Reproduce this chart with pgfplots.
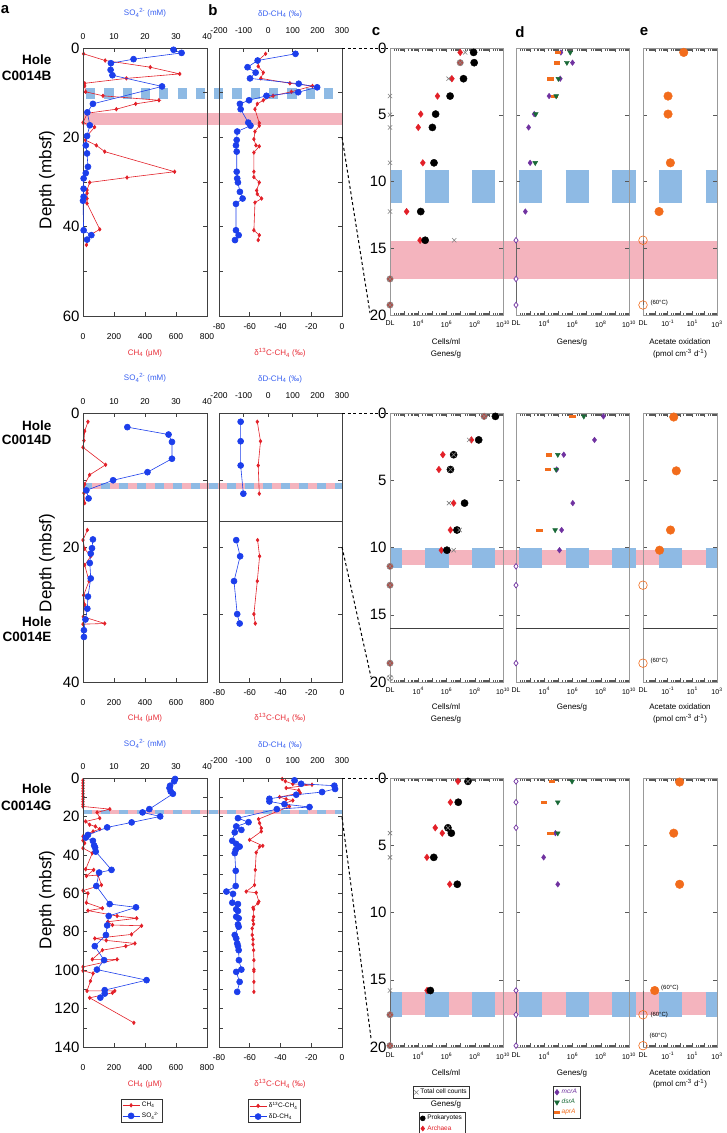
\documentclass[border=0pt]{standalone}
\usepackage{pgfplots}
\pgfplotsset{compat=1.18}
\usepackage{fontspec}
\setmainfont{Liberation Sans}
\usetikzlibrary{plotmarks}
\definecolor{cred}{RGB}{226,32,40}
\definecolor{cblue}{RGB}{28,62,235}
\definecolor{lred}{RGB}{232,45,55}
\definecolor{lblue}{RGB}{55,95,240}
\definecolor{bpink}{RGB}{244,180,190}
\definecolor{bblue}{RGB}{142,186,228}
\definecolor{cpurple}{RGB}{112,50,160}
\definecolor{cgreen}{RGB}{25,105,55}
\definecolor{corange}{RGB}{242,108,28}
\definecolor{dlfill}{RGB}{178,72,66}
\newcommand\fs[1]{\fontsize{#1}{#1}\selectfont}
\tikzset{dlline/.style={black!60, line width=0.8pt}}
\pgfplotsset{
  every axis/.append style={scale only axis, anchor=north west, /pgf/number format/assume math mode=true},
  ab/.style={y dir=reverse, clip=false,
     axis line style={black!75, line width=0.7pt},
     tick style={black!75, line width=0.6pt}, major tick length=4pt,
     xticklabel style={font=\fs{8.5}}, yticklabel style={font=\fs{15}}},
  ch4/.style={color=cred, line width=0.6pt, mark=diamond*, mark size=1.8pt, mark options={solid}},
  so4/.style={color=cblue, line width=0.6pt, mark=*, mark size=3pt, mark options={solid}},
  cdebase/.style={y dir=reverse, clip=false, ymin=0, ymax=20,
     axis line style={black!40, line width=0.7pt},
     tick style={black!65, line width=0.5pt}, major tick length=4pt, minor tick length=2.5pt,
     ytick={0,5,...,20}, yticklabel style={font=\fs{15}},
     xticklabel style={font=\fs{7}, yshift=-2pt}},
  logcx/.style={cdebase, width=113pt, xmin=1e2, xmax=1e10, xtick={1e2,1e3,1e4,1e5,1e6,1e7,1e8,1e9,1e10},
     minor xtick={2e2,3e2,4e2,5e2,6e2,7e2,8e2,9e2,2e3,3e3,4e3,5e3,6e3,7e3,8e3,9e3,2e4,3e4,4e4,5e4,6e4,7e4,8e4,9e4,2e5,3e5,4e5,5e5,6e5,7e5,8e5,9e5,2e6,3e6,4e6,5e6,6e6,7e6,8e6,9e6,2e7,3e7,4e7,5e7,6e7,7e7,8e7,9e7,2e8,3e8,4e8,5e8,6e8,7e8,8e8,9e8,2e9,3e9,4e9,5e9,6e9,7e9,8e9,9e9},
     xticklabels={DL,,10\textsuperscript{4},,10\textsuperscript{6},,10\textsuperscript{8},,10\textsuperscript{10}}},
  logex/.style={cdebase, width=74pt, xmin=1e-3, xmax=1e3, xtick={1e-3,1e-2,1e-1,1,1e1,1e2,1e3},
     minor xtick={2e-3,3e-3,4e-3,5e-3,6e-3,7e-3,8e-3,9e-3,2e-2,3e-2,4e-2,5e-2,6e-2,7e-2,8e-2,9e-2,0.2,0.3,0.4,0.5,0.6,0.7,0.8,0.9,2,3,4,5,6,7,8,9,20,30,40,50,60,70,80,90,200,300,400,500,600,700,800,900},
     xticklabels={DL,,10\textsuperscript{-1},,10\textsuperscript{1},,10\textsuperscript{3}}, yticklabels={}},
  prok/.style={only marks, mark=*, mark size=3.6pt, color=black},
  arch/.style={only marks, mark=diamond*, mark size=3.3pt, color=cred},
  tot/.style={only marks, mark=x, mark size=3pt, color=black!50, line width=0.6pt},
  dlc/.style={only marks, mark=otimes*, mark size=3.2pt, mark options={fill=dlfill, draw=black!45, line width=0.5pt}},
  mcra/.style={only marks, mark=diamond*, mark size=2.8pt, color=cpurple},
  mcro/.style={only marks, mark=diamond*, mark size=2.8pt, mark options={draw=cpurple, fill=white, line width=0.7pt}},
  dsra/.style={only marks, mark=triangle*, mark size=2.8pt, color=cgreen, mark options={rotate=180}},
  apra/.style={only marks, mark=square*, mark size=1.7pt, color=corange, mark options={xscale=1.6, yscale=0.7}},
  ace/.style={only marks, mark=*, mark size=4.3pt, color=corange},
  aceo/.style={only marks, mark=o, mark size=4.3pt, color=corange, line width=0.6pt},
  legax/.style={hide axis, width=10pt, height=10pt, xmin=0, xmax=1, ymin=0, ymax=1, legend cell align=left,
     legend style={at={(0,1)}, anchor=north west, draw=black!80, line width=0.5pt, font=\fs{6.5},
       inner sep=1pt, row sep=0pt, fill=white}},
}
\begin{document}
\begin{tikzpicture}
\useasboundingbox (0pt,0pt) rectangle (726pt,-1133pt);
\begin{scope}[x=1pt,y=-1pt]
\fill[bpink] (83,112.7) rectangle (342,124.7);
\draw[bblue, line width=11pt, dash pattern=on 9.2pt off 9.1pt] (86,93.8) -- (342,93.8);
\fill[bpink] (390,240.5) rectangle (717,279.3);
\draw[bblue, line width=33.4pt, dash pattern=on 23.3pt off 23.4pt, dash phase=11.3pt] (390,186.5) -- (717,186.5);
\fill[bpink] (83,482.7) rectangle (342,489.3);
\draw[bblue, line width=6.6pt, dash pattern=on 9pt off 9pt] (83,486) -- (342,486);
\fill[bpink] (390,550.3) rectangle (717,565);
\draw[bblue, line width=19.5pt, dash pattern=on 23.3pt off 23.4pt, dash phase=11.3pt] (390,558) -- (717,558);
\fill[bpink] (83,809.5) rectangle (342,813.5);
\draw[bblue, line width=4pt, dash pattern=on 9pt off 9pt] (83,811.5) -- (342,811.5);
\fill[bpink] (390,991.7) rectangle (717,1015);
\draw[bblue, line width=25pt, dash pattern=on 23.3pt off 23.4pt, dash phase=11.3pt] (390,1004.5) -- (717,1004.5);
\end{scope}

% ================= ROW 1 =================
\begin{axis}[ab, at={(83pt,-48pt)}, width=124pt, height=268pt, xmin=0, xmax=800, ymin=0, ymax=60,
  xtick={0,200,...,800}, xtick pos=left, xticklabel style={yshift=-14pt},
  ytick={0,10,...,60}, yticklabels={0,,20,,40,,60}]
\addplot[ch4] coordinates {(4,1.3) (143,2.8) (434,4.3) (624,5.8) (280,6.8) (11,7.9) (11,8.5) (17,9.8) (129,10.7) (490,11.7) (340,12.5) (215,13.7) (28,14.6) (0,16.7) (75,17.7) (26,19.7) (15,20.6) (86,21.8) (140,23.2) (591,27.7) (284,29.0) (43,30.1) (26,31.8) (26,32.5) (26,33.7) (26,34.8) (108,40.6) (54,41.7) (22,44.1)};
\end{axis}
\begin{axis}[ab, at={(83pt,-48pt)}, width=124pt, height=268pt, xmin=0, xmax=40, ymin=0, ymax=60,
  xtick={0,10,...,40}, xtick pos=right, xticklabel pos=right, xticklabel style={yshift=5pt}, ytick=\empty]
\addplot[so4] coordinates {(29.2,0.4) (31.8,1.1) (16.3,2.5) (9.0,3.4) (8.9,4.9) (9.5,6.1) (25.5,8.6) (3.2,12.5) (1.4,14.4) (2.2,17.3) (1.3,19.7) (0.9,21.8) (1.3,23.6) (1.6,26.6) (0.9,28.0) (0.2,29.2) (0.2,31.5) (0.2,33.3) (0.0,34.2) (0.2,40.8) (2.7,41.9) (1.3,42.9)};
\end{axis}
\begin{axis}[ab, at={(219pt,-48pt)}, width=123pt, height=268pt, xmin=-80, xmax=0, ymin=0, ymax=60,
  xtick={-80,-60,...,0}, xtick pos=left, xticklabel style={yshift=-4pt},
  ytick={0,10,...,60}, yticklabels={}]
\addplot[ch4] coordinates {(-49.7,1.3) (-54.5,2.8) (-54.5,4.1) (-51.2,5.5) (-52.8,6.8) (-33.9,7.9) (-19.2,8.5) (-32.9,9.8) (-44.8,10.7) (-51.2,11.7) (-55.1,12.5) (-56.6,13.7) (-53.8,16.8) (-53.8,17.4) (-56.6,18.7) (-57.3,20.4) (-56.0,21.8) (-53.8,22.0) (-57.3,23.4) (-57.3,27.7) (-57.3,28.9) (-53.8,30.1) (-55.5,31.9) (-55.1,32.7) (-52.3,33.7) (-56.6,34.6) (-57.3,40.8) (-53.8,41.9) (-54.5,43.0)};
\end{axis}
\begin{axis}[ab, at={(219pt,-48pt)}, width=123pt, height=268pt, xmin=-200, xmax=300, ymin=0, ymax=60,
  xtick={-200,-100,...,300}, xtick pos=right, xticklabel pos=right, xticklabel style={yshift=11pt}, ytick=\empty]
\addplot[so4] coordinates {(111,1.3) (-43,2.8) (-84,4.3) (-51,5.5) (-74,6.8) (124,8.0) (199,8.8) (122,9.9) (-7,10.7) (-78,11.7) (-115,12.5) (-112,13.7) (-81,16.7) (-72,17.4) (-126,18.7) (-128,20.6) (-131,21.8) (-128,23.2) (-128,27.7) (-126,29.2) (-123,30.1) (-115,32.2) (-104,33.7) (-131,34.9) (-131,40.8) (-120,41.9) (-135,43.0)};
\end{axis}
\begin{semilogxaxis}[logcx, at={(390pt,-48pt)}, height=267pt]
\addplot[arch] coordinates {(9.3e6,0.33) (2.4e6,2.3) (2.3e5,3.6) (1.5e4,4.95) (1.0e4,5.95) (2.1e4,8.6) (1.5e3,12.25) (1.35e4,14.4)};
\addplot[dlc] coordinates {(9.3e6,1.1) (1e2,17.3) (1e2,19.25)};
\addplot[prok] coordinates {(8.3e7,0.33) (9.1e7,1.1) (1.6e7,2.3) (1.8e6,3.6) (1.7e5,4.95) (1.0e5,5.95) (1.3e5,8.6) (1.5e4,12.25) (3.1e4,14.4)};
\addplot[tot] coordinates {(2.1e7,0.33) (1.4e6,2.3) (1e2,3.6) (1e2,5.0) (1e2,5.95) (1e2,8.6) (1e2,12.25) (3.5e6,14.4)};
\end{semilogxaxis}
\begin{semilogxaxis}[logcx, at={(516pt,-48pt)}, height=267pt, yticklabels={}]
\draw[dlline] (axis cs:1e2,14.4) -- (axis cs:1e2,19.25);
\addplot[mcra] coordinates {(1.5e5,0.33) (1e6,1.1) (1.35e5,2.3) (2.2e4,3.6) (1.95e3,4.95) (780,5.95) (1e3,8.6) (460,12.25)};
\addplot[mcro] coordinates {(1e2,14.4) (1e2,17.3) (1e2,19.25)};
\addplot[apra] coordinates {(9e4,0.33) (7.8e4,1.1) (2.6e4,2.3) (5e4,3.6)};
\addplot[dsra] coordinates {(6.9e5,0.33) (4e5,1.1) (1e5,2.3) (7e4,3.6) (2.5e3,4.95) (2.3e3,8.6)};
\end{semilogxaxis}
\begin{semilogxaxis}[logex, at={(643pt,-48pt)}, height=267pt]
\draw[dlline] (axis cs:1e-3,14.4) -- (axis cs:1e-3,19.25);
\addplot[ace] coordinates {(2.0,0.33) (0.107,3.6) (0.107,4.95) (0.166,8.6) (0.02,12.25)};
\addplot[aceo] coordinates {(1e-3,14.4) (1e-3,19.25)};
\node[anchor=west, font=\fs{6}] at (axis cs:1e-3,19.1) {\hspace*{4pt}(60°C)};
\end{semilogxaxis}

% ================= ROW 2 =================
\begin{axis}[ab, at={(83pt,-413pt)}, width=124pt, height=269pt, xmin=0, xmax=800, ymin=0, ymax=40,
  xtick={0,200,...,800}, xtick pos=left, xticklabel style={yshift=-14pt},
  ytick={0,10,...,40}, yticklabels={0,,20,,40}]
\addplot[ch4] coordinates {(32,1.3) (11,2.7) (6,4.1) (0,5.1) (146,7.7) (43,9.2) (11,10.6) (6,11.9) (11,13.4)};
\addplot[ch4] coordinates {(28,17.4) (0,18.9) (11,20.2) (50,21.3) (11,22.6) (39,25.0) (4,27.1) (11,28.5) (2,30.3) (140,31.3) (0,31.4)};
\end{axis}
\begin{axis}[ab, at={(83pt,-413pt)}, width=124pt, height=269pt, xmin=0, xmax=40, ymin=0, ymax=40,
  xtick={0,10,...,40}, xtick pos=right, xticklabel pos=right, xticklabel style={yshift=5pt}, ytick=\empty]
\addplot[so4] coordinates {(14.3,2.1) (27.6,3.2) (28.7,4.3) (28.7,6.8) (20.8,8.8) (9.7,10.0) (1.1,11.5) (1.8,12.7)};
\addplot[so4] coordinates {(3.2,18.8) (2.9,20.1) (2.5,20.9) (2.2,22.3) (2.5,24.6) (1.6,27.3) (1.4,29.1) (0.8,30.7) (0.3,32.3) (0.3,33.3)};
\end{axis}
\begin{axis}[ab, at={(219pt,-413pt)}, width=123pt, height=269pt, xmin=-80, xmax=0, ymin=0, ymax=40,
  xtick={-80,-60,...,0}, xtick pos=left, xticklabel style={yshift=-4pt},
  ytick={0,10,...,40}, yticklabels={}]
\addplot[ch4] coordinates {(-55.1,1.3) (-53.0,4.2) (-54.5,7.8) (-53.8,12.0)};
\addplot[ch4] coordinates {(-54.9,18.9) (-53.6,21.3) (-55.1,25.0) (-57.3,29.9) (-56.4,31.3)};
\end{axis}
\begin{axis}[ab, at={(219pt,-413pt)}, width=123pt, height=269pt, xmin=-200, xmax=300, ymin=0, ymax=40,
  xtick={-200,-100,...,300}, xtick pos=right, xticklabel pos=right, xticklabel style={yshift=11pt}, ytick=\empty]
\addplot[so4] coordinates {(-112,1.3) (-112,4.2) (-112,7.8) (-101,12.0)};
\addplot[so4] coordinates {(-130,18.9) (-114,21.3) (-139,25.0) (-126,29.9) (-116,31.3)};
\end{axis}
\begin{semilogxaxis}[logcx, at={(390pt,-413pt)}, height=269pt]
\addplot[arch] coordinates {(4.6e8,0.25) (5.8e7,2.0) (5.5e5,3.1) (2.9e5,4.2) (3.2e6,6.7) (1.9e6,8.7) (4.3e5,10.2)};
\addplot[dlc] coordinates {(4.6e8,0.25) (1e2,11.4) (1e2,12.8) (1e2,18.6)};
\addplot[only marks, mark=otimes, mark size=3.2pt, color=black!50] coordinates {(1e2,19.7)};
\addplot[prok] coordinates {(2.9e9,0.25) (1.9e8,2.0) (3.2e6,3.1) (1.9e6,4.2) (1.9e7,6.7) (5.5e6,8.7) (1.07e6,10.2)};
\addplot[tot] coordinates {(4e7,2.0) (3.2e6,3.1) (1.9e6,4.2) (1.5e6,6.7) (8.5e6,8.7) (3.2e6,10.2)};
\end{semilogxaxis}
\begin{semilogxaxis}[logcx, at={(516pt,-413pt)}, height=269pt, yticklabels={}]
\addplot[mcra] coordinates {(1.55e8,0.25) (3.6e7,2.0) (2.4e5,3.1) (7.6e4,4.2) (1.05e6,6.7) (1.7e5,8.7) (1.2e5,10.2)};
\addplot[mcro] coordinates {(1e2,11.4) (1e2,12.8) (1e2,18.6)};
\addplot[apra] coordinates {(9.3e5,0.25) (2.1e4,3.1) (1.8e4,4.2) (4.5e3,8.7)};
\addplot[dsra] coordinates {(6.3e6,0.25) (9.1e4,3.1) (6.9e4,4.2) (5.9e4,8.7)};
\end{semilogxaxis}
\begin{semilogxaxis}[logex, at={(643pt,-413pt)}, height=269pt]
\addplot[ace] coordinates {(0.31,0.3) (0.5,4.3) (0.17,8.7) (0.022,10.2)};
\addplot[aceo] coordinates {(1e-3,12.8) (1e-3,18.6)};
\node[anchor=west, font=\fs{6}] at (axis cs:1e-3,18.45) {\hspace*{4pt}(60°C)};
\end{semilogxaxis}

% ================= ROW 3 =================
\begin{axis}[ab, at={(83pt,-778pt)}, width=124pt, height=269pt, xmin=0, xmax=800, ymin=0, ymax=140,
  xtick={0,200,...,800}, xtick pos=left, xticklabel style={yshift=-14pt},
  ytick={0,10,...,140}, yticklabels={0,,20,,40,,60,,80,,100,,120,,140}]
\addplot[ch4] coordinates {(0,1.2) (0,2.6) (0,4.0) (0,5.4) (0,6.8) (0,8.2) (0,9.6) (0,11.0) (0,12.3) (0,13.7) (0,14.8) (173,16.2) (91,17.9) (108,20.9) (17,22.6) (43,24.3) (80,25.2) (108,26.6) (65,27.8) (0,30.4) (0,32.5) (11,33.9) (0,36.5) (60,39.1) (17,47.5) (69,47.8) (22,51.0) (97,50.5) (119,55.7) (0,58.6) (32,60.0) (22,64.9) (125,67.8) (32,69.0) (220,71.8) (346,73.0) (160,74.8) (190,76.5) (378,76.9) (313,81.4) (76,83.5) (150,84.5) (335,86.1) (276,87.5) (125,89.6) (60,94.4) (220,94.4) (0,98.3) (0,100.3) (65,101.7) (48,105.7) (26,110.8) (205,110.8) (190,111.8) (43,114.4) (328,127.4)};
\end{axis}
\begin{axis}[ab, at={(83pt,-778pt)}, width=124pt, height=269pt, xmin=0, xmax=40, ymin=0, ymax=140,
  xtick={0,10,...,40}, xtick pos=right, xticklabel pos=right, xticklabel style={yshift=5pt}, ytick=\empty]
\addplot[so4] coordinates {(29.7,0.5) (29.4,1.7) (28.1,4.0) (27.9,5.2) (28.3,7.0) (29.0,8.2) (21.4,16.2) (19.2,17.9) (24.9,20.0) (15.7,23.1) (7.8,25.7) (1.6,29.6) (0.9,31.0) (3.2,32.7) (3.6,35.1) (3.9,36.2) (4.1,38.3) (9.2,47.8) (5.2,49.2) (4.3,56.2) (8.6,65.6) (17.1,67.3) (8.3,71.8) (7.8,76.7) (7.4,81.7) (3.8,87.5) (6.8,94.8) (4.5,99.7) (20.5,105.2) (7.0,110.4) (7.0,112.2) (5.6,114.3)};
\end{axis}
\begin{axis}[ab, at={(219pt,-778pt)}, width=123pt, height=269pt, xmin=-80, xmax=0, ymin=0, ymax=140,
  xtick={-80,-60,...,0}, xtick pos=left, xticklabel style={yshift=-4pt},
  ytick={0,10,...,140}, yticklabels={}]
\addplot[ch4] coordinates {(-38.9,0.5) (-36.8,1.7) (-32.0,3.1) (-19.5,3.5) (-36.3,5.2) (-28.1,6.4) (-27.2,7.8) (-40.6,9.9) (-36.3,11.0) (-32.0,11.7) (-38.1,13.4) (-34.2,14.8) (-54.3,21.4) (-53.6,23.5) (-52.5,26.1) (-52.5,27.8) (-60.1,32.2) (-51.5,35.3) (-53.6,35.7) (-55.8,38.8) (-56.4,47.8) (-56.9,55.7) (-62.3,59.1) (-55.8,59.7) (-54.1,64.3) (-54.7,65.2) (-57.9,67.5) (-57.5,68.3) (-57.5,72.2) (-57.9,74.0) (-57.5,76.0) (-58.4,78.3) (-58.4,81.7) (-57.9,84.0) (-57.9,86.6) (-57.5,89.6) (-57.3,94.8) (-57.3,99.7) (-57.3,100.5) (-57.3,106.1) (-57.3,111.3)};
\end{axis}
\begin{axis}[ab, at={(219pt,-778pt)}, width=123pt, height=269pt, xmin=-200, xmax=300, ymin=0, ymax=140,
  xtick={-200,-100,...,300}, xtick pos=right, xticklabel pos=right, xticklabel style={yshift=11pt}, ytick=\empty]
\addplot[so4] coordinates {(107,1.2) (134,3.0) (269,4.0) (272,5.7) (219,7.3) (114,8.7) (5,10.8) (5,12.2) (66,13.6) (168,15.1) (35,16.2) (-123,20.9) (-80,23.0) (-130,25.2) (-109,27.0) (-136,28.3) (-146,32.7) (-130,34.3) (-116,35.7) (-132,37.4) (-136,39.1) (-132,48.3) (-132,56.2) (-170,59.1) (-143,60.3) (-146,64.9) (-123,65.6) (-130,68.3) (-123,69.2) (-130,72.2) (-120,73.0) (-123,76.2) (-120,77.4) (-136,81.7) (-130,83.5) (-126,86.1) (-123,87.5) (-120,89.6) (-119,94.8) (-109,99.7) (-130,100.9) (-116,106.1) (-126,111.3)};
\end{axis}
\begin{semilogxaxis}[logcx, at={(390pt,-778pt)}, height=269pt]
\draw[dlline] (axis cs:1e2,15.8) -- (axis cs:1e2,20);
\addplot[arch] coordinates {(6.5e6,0.25) (1.9e6,1.8) (1.6e5,3.7) (5e5,4.1) (4.1e4,5.9) (1.7e6,7.9) (4.2e4,15.8)};
\addplot[dlc] coordinates {(1e2,17.6) (1e2,19.9)};
\addplot[prok] coordinates {(3.3e7,0.25) (6.8e6,1.8) (1.26e6,3.7) (2.2e6,4.1) (1.26e5,5.9) (5.8e6,7.9) (7.2e4,15.8)};
\addplot[tot] coordinates {(3.3e7,0.25) (1.26e6,3.7) (1e2,4.1) (1e2,5.9) (1e2,15.8)};
\end{semilogxaxis}
\begin{semilogxaxis}[logcx, at={(516pt,-778pt)}, height=269pt, yticklabels={}]
\draw[dlline] (axis cs:1e2,15.8) -- (axis cs:1e2,20);
\addplot[mcra] coordinates {(6.2e4,4.1) (9.1e3,5.9) (9.1e4,7.9)};
\addplot[mcro] coordinates {(1e2,0.25) (1e2,1.8) (1e2,3.7) (1e2,15.8) (1e2,17.6) (1e2,19.9)};
\addplot[apra] coordinates {(3.5e4,0.25) (9.1e3,1.8) (2.6e4,4.1)};
\addplot[dsra] coordinates {(9.3e5,0.25) (9.1e4,1.8) (9.1e4,4.1)};
\end{semilogxaxis}
\begin{semilogxaxis}[logex, at={(643pt,-778pt)}, height=269pt]
\draw[dlline] (axis cs:1e-3,15.8) -- (axis cs:1e-3,20);
\addplot[ace] coordinates {(0.93,0.3) (0.31,4.1) (0.93,7.9) (8.9e-3,15.8)};
\addplot[aceo] coordinates {(1e-3,17.6) (1e-3,19.9)};
\node[anchor=west, font=\fs{6}] at (axis cs:8.9e-3,15.6) {\hspace*{3pt}(60°C)};
\node[anchor=west, font=\fs{6}] at (axis cs:1e-3,17.6) {\hspace*{4pt}(60°C)};
\node[anchor=west, font=\fs{6}] at (axis cs:1e-3,19.2) {\hspace*{3pt}(60°C)};
\end{semilogxaxis}

% ================= LEGENDS =================
\begin{axis}[legax, at={(121pt,-1099pt)}]
\addlegendimage{ch4}\addlegendentry{CH\textsubscript{4}}
\addlegendimage{so4}\addlegendentry{SO\textsubscript{4}\textsuperscript{2-}}
\end{axis}
\begin{axis}[legax, at={(248pt,-1099pt)}]
\addlegendimage{ch4}\addlegendentry{δ\textsuperscript{13}C-CH\textsubscript{4}}
\addlegendimage{so4}\addlegendentry{δD-CH\textsubscript{4}}
\end{axis}
\begin{axis}[legax, at={(413pt,-1086pt)}]
\addlegendimage{tot}\addlegendentry{Total cell counts}
\end{axis}
\begin{axis}[legax, at={(419pt,-1112pt)}]
\addlegendimage{prok, mark size=2.5pt}\addlegendentry{Prokaryotes}
\addlegendimage{arch, mark size=2.5pt}\addlegendentry{\textcolor{cred}{Archaea}}
\end{axis}
\begin{axis}[legax, at={(553pt,-1086pt)}]
\addlegendimage{mcra}\addlegendentry{\textcolor{cpurple}{\itshape mcrA}}
\addlegendimage{dsra}\addlegendentry{\textcolor{cgreen}{\itshape dsrA}}
\addlegendimage{apra}\addlegendentry{\textcolor{corange}{\itshape aprA}}
\end{axis}

% ================= TEXT & LINES =================
\begin{scope}[x=1pt,y=-1pt]
\tikzset{dl/.style={black, line width=1pt, dash pattern=on 3pt off 2.5pt}}
\draw[dl] (342,48) -- (388,48); \draw[dl] (342,137) -- (370,313);
\draw[dl] (342,413) -- (388,413); \draw[dl] (342,547) -- (371,677);
\draw[dl] (342,778) -- (388,778); \draw[dl] (342,817) -- (371,1038);
\foreach \a/\b in {83/207,219/342} \draw[black!75, line width=0.8pt] (\a,521) -- (\b,521);
\foreach \a/\b in {390/503,516/629,643/717} \draw[black!75, line width=0.8pt] (\a,628) -- (\b,628);
\foreach \t/\x/\y in {a/5/10,b/213/10,c/376/32,d/520/32,e/644/32} \node[font=\bfseries\fs{15}] at (\x,\y) {\t};
\foreach \y in {180,563,900} \node[rotate=90, font=\fs{17}] at (47,\y) {Depth (mbsf)};
\foreach \t/\y in {Hole/60,C0014B/76,Hole/426,C0014D/440,Hole/622,C0014E/637,Hole/789,C0014G/806}
  \node[anchor=east, font=\bfseries\fs{13.5}] at (55,\y) {\t};
\foreach \yt/\yb in {13/353,378/718,744/1084} {
  \node[lblue, font=\fs{8}] at (145,\yt) {SO\textsubscript{4}\textsuperscript{2-} (mM)};
  \node[lblue, font=\fs{8}] at (280,\yt+1) {δD-CH\textsubscript{4} (‰)};
  \node[lred, font=\fs{8}] at (145,\yb) {CH\textsubscript{4} (μM)};
  \node[lred, font=\fs{8}] at (280,\yb) {δ\textsuperscript{13}C-CH\textsubscript{4} (‰)};
}
\foreach \y in {342,707} {
  \node[font=\fs{8}] at (446,\y) {Cells/ml};
  \node[font=\fs{8}] at (446,\y+12) {Genes/g};
  \node[font=\fs{8}] at (572,\y) {Genes/g};
  \node[font=\fs{8}] at (680,\y) {Acetate oxidation};
  \node[font=\fs{8}] at (680,\y+12) {(pmol cm\textsuperscript{-3} d\textsuperscript{-1})};
}
\node[font=\fs{8}] at (446,1073) {Cells/ml};
\node[font=\fs{8}] at (572,1073) {Genes/g};
\node[font=\fs{8}] at (680,1073) {Acetate oxidation};
\node[font=\fs{8}] at (680,1084) {(pmol cm\textsuperscript{-3} d\textsuperscript{-1})};
\node[font=\fs{8}] at (446,1104) {Genes/g};
\end{scope}
\end{tikzpicture}
\end{document}
